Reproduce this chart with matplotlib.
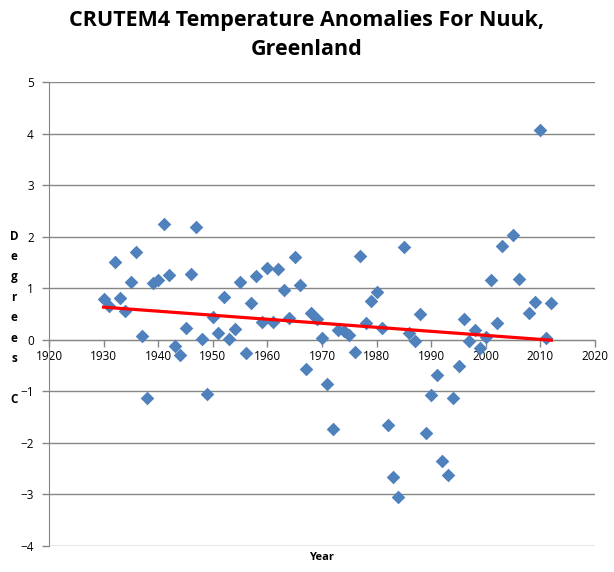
import numpy as np
import matplotlib
matplotlib.use('Agg')
import matplotlib.pyplot as plt

# CRUTEM4 annual anomalies, Nuuk
years = [1930, 1931, 1932, 1933, 1934, 1935, 1936, 1937, 1938, 1939,
         1940, 1941, 1942, 1943, 1944, 1945, 1946, 1947, 1948, 1949,
         1950, 1951, 1952, 1953, 1954, 1955, 1956, 1957, 1958, 1959,
         1960, 1961, 1962, 1963, 1964, 1965, 1966, 1967, 1968, 1969,
         1970, 1971, 1972, 1973, 1974, 1975, 1976, 1977, 1978, 1979,
         1980, 1981, 1982, 1983, 1984, 1985, 1986, 1987, 1988, 1989,
         1990, 1991, 1992, 1993, 1994, 1995, 1996, 1997, 1998, 1999,
         2000, 2001, 2002, 2003, 2005, 2006, 2008, 2009, 2010, 2011, 2012]
anoms = [0.79, 0.65, 1.51, 0.81, 0.56, 1.12, 1.71, 0.08, -1.12, 1.10,
         1.16, 2.24, 1.25, -0.12, -0.29, 0.23, 1.28, 2.18, 0.01, -1.05,
         0.45, 0.13, 0.83, 0.01, 0.21, 1.12, -0.26, 0.71, 1.23, 0.34,
         1.39, 0.34, 1.37, 0.96, 0.43, 1.60, 1.07, -0.56, 0.52, 0.41,
         0.03, -0.86, -1.73, 0.19, 0.17, 0.09, -0.24, 1.62, 0.33, 0.75,
         0.92, 0.23, -1.65, -2.67, -3.05, 1.80, 0.13, -0.03, 0.50, -1.81,
         -1.07, -0.68, -2.35, -2.62, -1.13, -0.50, 0.40, -0.03, 0.19, -0.16,
         0.06, 1.16, 0.33, 1.82, 2.04, 1.18, 0.52, 0.74, 4.06, 0.03, 0.72]
xticks = list(range(1920, 2021, 10))
yticks = list(range(-4, 6))

x = np.array(years)
y = np.array(anoms)
coef = np.polyfit(x, y, 1)  # linear trendline like excel

fig = plt.figure(figsize=(6.14, 5.72), dpi=100)
ax = fig.add_axes([49/614, 1 - 546/572, (595 - 49)/614, (546 - 82)/572])

grey = '#868686'
ax.set_xlim(1920, 2020)
ax.set_ylim(-4, 5)
ax.set_yticks(yticks)
ax.set_xticks(xticks)
ax.yaxis.grid(True, color=grey, lw=1)
ax.set_axisbelow(True)

for s in ['top', 'right']:
    ax.spines[s].set_visible(False)
ax.spines['left'].set_color(grey)
ax.spines['bottom'].set_color(grey)
ax.spines['bottom'].set_position(('data', 0))

ax.tick_params(axis='both', colors=grey, length=5, width=1, labelcolor='black',
               labelsize=8.5)
ax.tick_params(axis='y', pad=6)
ax.tick_params(axis='x', pad=2)
for lab in ax.get_xticklabels() + ax.get_yticklabels():
    lab.set_family('Open Sans')

ax.scatter(x, y, marker='D', s=48, color='#4F81BD', zorder=3, linewidths=0)
xt = np.array([1930, 2012])
ax.plot(xt, np.polyval(coef, xt), color='#FF0000', lw=2.3, zorder=4)

fig.text(0.5, 1 - 35/572, 'CRUTEM4 Temperature Anomalies For Nuuk,\nGreenland',
         ha='center', va='center', fontsize=15.5, fontweight='bold',
         family='Open Sans', linespacing=1.45)

letters = ['D', 'e', 'g', 'r', 'e', 'e', 's', '', 'C']
for i, ch in enumerate(letters):
    fig.text(14/614, 1 - (236 + i*20.4)/572, ch, ha='center', va='center',
             fontsize=8.5, fontweight='bold', family='Open Sans')

fig.text(322/614, 1 - 557/572, 'Year', ha='center', va='center',
         fontsize=8, fontweight='bold', family='Open Sans')

fig.savefig('out.png', dpi=100)
